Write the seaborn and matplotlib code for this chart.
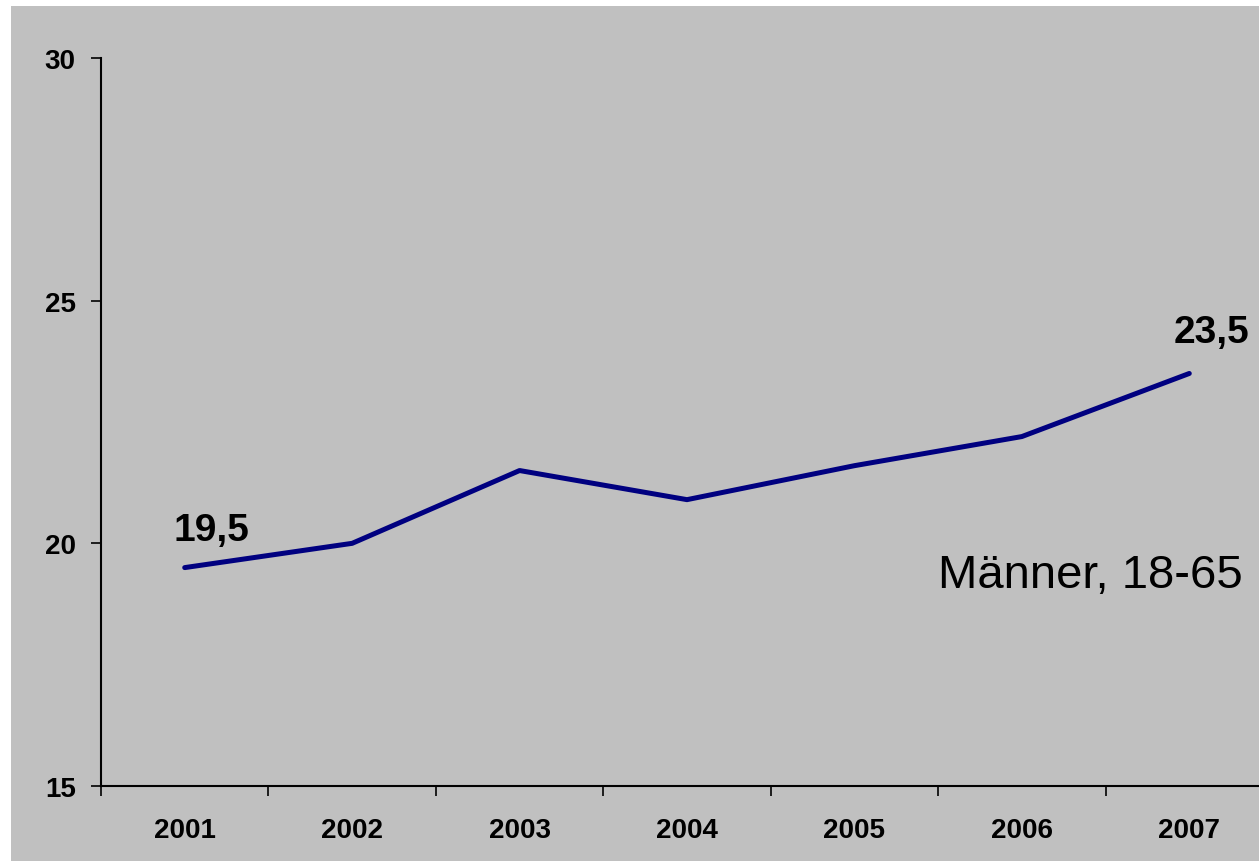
import matplotlib
matplotlib.use("Agg")
import matplotlib.pyplot as plt
from matplotlib.patches import Rectangle
import seaborn as sns
import pandas as pd

years = ["2001", "2002", "2003", "2004", "2005", "2006", "2007"]
values = [19.5, 20.0, 21.5, 20.9, 21.6, 22.2, 23.5]
label_first = "19,5"
label_last = "23,5"
series_note = "Männer, 18-65"
y_ticks = [15, 20, 25, 30]

sns.set_style("ticks")
plt.rcParams["font.family"] = ["Liberation Sans", "DejaVu Sans"]
plt.rcParams["text.color"] = "black"
plt.rcParams["xtick.color"] = "black"
plt.rcParams["ytick.color"] = "black"
plt.rcParams["xtick.labelcolor"] = "black"
plt.rcParams["ytick.labelcolor"] = "black"

W, H = 1259, 862
fig = plt.figure(figsize=(W / 100, H / 100), dpi=100, facecolor="white")
fig.patches.append(Rectangle((11 / W, 0), 1 - 11 / W, 1 - 7 / H,
                             transform=fig.transFigure, facecolor="#C0C0C0",
                             edgecolor="none", zorder=-10))

left, right = 101, 1273
top, bottom = 59, 787
ax = fig.add_axes([left / W, (H - bottom) / H, (right - left) / W, (bottom - top) / H])
ax.set_facecolor("none")
ax.set_zorder(5)

df = pd.DataFrame({"year": years, "value": values})
df["pos"] = range(len(years))
sns.lineplot(data=df, x="pos", y="value", ax=ax, color="#000080", linewidth=3.6)

ax.set_xlim(-0.5, len(years) - 0.5)
ax.set_ylim(15, 30)
ax.set_yticks(y_ticks)
ax.set_yticklabels([str(t) for t in y_ticks], fontsize=20, fontweight="bold")
ax.set_xticks([i - 0.5 for i in range(len(years) + 1)])
ax.set_xticklabels([])
ax.set_xticks(list(range(len(years))), minor=True)
ax.set_xticklabels(years, minor=True, fontsize=20, fontweight="bold")
ax.tick_params(axis="x", which="major", direction="out", length=7.2, width=1.2, color="black")
ax.tick_params(axis="x", which="minor", length=0, pad=22)
ax.tick_params(axis="y", direction="out", length=7.2, width=1.2, pad=11, color="black")
ax.set_xlabel("")
ax.set_ylabel("")
for s in ["top", "right"]:
    ax.spines[s].set_visible(False)
for s in ["left", "bottom"]:
    ax.spines[s].set_color("black")
    ax.spines[s].set_linewidth(1.5)

ax.annotate(label_first, xy=(0, values[0]), xytext=(19, 27), textcoords="offset points",
            ha="center", va="center", fontsize=28, fontweight="bold", color="black")
ax.annotate(label_last, xy=(len(years) - 1, values[-1]), xytext=(16, 30), textcoords="offset points",
            ha="center", va="center", fontsize=28, fontweight="bold", color="black")
fig.text(1243 / W, 1 - 576 / H, series_note, ha="right", va="center", fontsize=34, color="black")

fig.savefig("out.png", dpi=100, facecolor="white")
